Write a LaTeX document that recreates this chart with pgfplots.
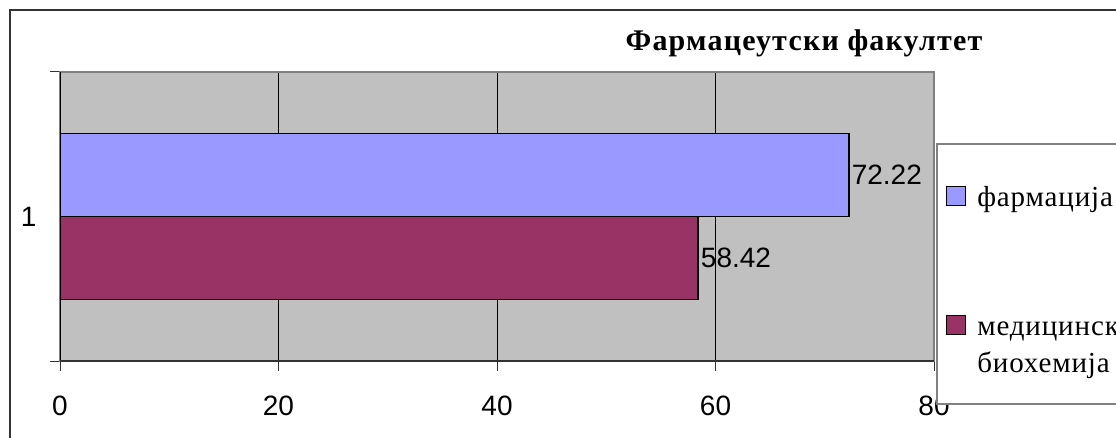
\documentclass[border=0pt]{standalone}
\usepackage{pgfplots}
\pgfplotsset{compat=1.18}
\usepackage{fontspec}
\setmainfont{Liberation Serif}
\newfontfamily\arial{Liberation Sans}
\definecolor{plotgray}{HTML}{C0C0C0}
\definecolor{barblue}{HTML}{9999FF}
\definecolor{barmaroon}{HTML}{993366}
\definecolor{edgegray}{HTML}{808080}
\definecolor{darkedge}{HTML}{333333}
\begin{document}
\begin{tikzpicture}[x=1pt,y=1pt]
\useasboundingbox (0,0) rectangle (1116,437);
\clip (0,0) rectangle (1116,437);
\draw[line width=1.5pt, draw=darkedge] (10,-20) -- (10,427) -- (1140,427);
\node[font=\bfseries\fontsize{30}{34}\selectfont\addfontfeatures{LetterSpace=4}, anchor=base] at (804,386) {Фармацеутски факултет};
\begin{axis}[
  at={(60pt,76pt)}, anchor=south west,
  scale only axis, width=874pt, height=289pt,
  xbar, bar width=83pt,
  xmin=0, xmax=80, ymin=0.5, ymax=1.5,
  axis background/.style={fill=plotgray},
  axis line style={draw=edgegray, line width=1.5pt},
  xtick={0,20,40,60,80},
  xtick pos=bottom, ytick pos=left,
  tick align=outside, major tick length=10pt,
  tick style={draw=darkedge, line width=1pt},
  ytick={0.5,1.5}, yticklabels={},
  extra y ticks={1}, extra y tick labels={1},
  extra y tick style={major tick length=0pt, ymajorgrids=false},
  xmajorgrids, major grid style={draw=black, line width=0.8pt},
  /pgf/number format/assume math mode=true,
  ticklabel style={font=\arial\fontsize{28}{28}\selectfont},
  xticklabel style={yshift=-21pt},
  yticklabel style={xshift=-20pt},
  legend style={at={(1.0023,0.754)}, anchor=north west, draw=edgegray,
    line width=1.5pt, fill=white,
    font=\fontsize{29}{37}\selectfont\addfontfeatures{LetterSpace=3},
    inner xsep=9pt, inner ysep=26pt, row sep=93pt, column sep=9pt,
    nodes={text depth=},
    cells={anchor=base west, inner sep=0pt}},
  legend image code/.code={\draw[#1, draw=black, line width=1.5pt] (0pt,1.5pt) rectangle (19pt,20.5pt);},
  nodes near coords style={font=\arial\fontsize{28}{28}\selectfont, anchor=west, inner sep=2pt, text=black},
]
\addplot[fill=barblue, draw=black, line width=1.5pt, bar shift=41.5pt,
  point meta=explicit symbolic, nodes near coords]
  coordinates {(72.22,1) [72.22]};
\addlegendentry{\rule{0pt}{35pt}фармација}
\addplot[fill=barmaroon, draw=black, line width=1.5pt, bar shift=-41.5pt,
  point meta=explicit symbolic, nodes near coords]
  coordinates {(58.42,1) [58.42]};
\addlegendentry{\raisebox{0pt}[\height][40pt]{\begin{tabular}[t]{@{}l@{}}медицинска\\биохемија\end{tabular}}}
\draw[draw=black, line width=1.5pt] (rel axis cs:0,0) -- (rel axis cs:0,1);
\draw[draw=darkedge, line width=1.5pt] (rel axis cs:0,0) -- (rel axis cs:1,0);
\end{axis}
\end{tikzpicture}
\end{document}
